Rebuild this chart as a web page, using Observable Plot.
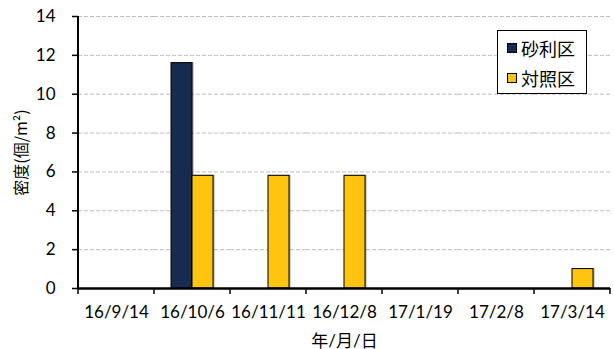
<!DOCTYPE html>
<html>
<head>
<meta charset="utf-8">
<script src="https://cdn.jsdelivr.net/npm/d3@7"></script>
<script src="https://cdn.jsdelivr.net/npm/@observablehq/plot@0.6"></script>
<style>
  body { margin: 0; background: #fff; }
  #chart { position: relative; width: 614px; height: 349px; }
  .legend {
    position: absolute; left: 497px; top: 30px; width: 88px; height: 62px;
    border: 1px solid #000; background: #fff;
    font-family: "Noto Sans CJK JP", sans-serif; font-size: 18px; color: #000;
  }
  .legend .item { position: absolute; left: 9px; display: flex; align-items: center; line-height: 1; }
  .legend .swatch { width: 8px; height: 8px; border: 1px solid #000; margin-right: 4px; }
  .bars rect { filter: drop-shadow(1.5px 0.5px 0.6px rgba(0, 0, 0, 0.35)); }
</style>
</head>
<body>
<div id="chart"></div>
<script>
// Survey dates (年/月/日) and the density per plot type (個/m²)
const dates = ["16/9/14", "16/10/6", "16/11/11", "16/12/8", "17/1/19", "17/2/8", "17/3/14"];
const series = ["砂利区", "対照区"];
const gravel = [0, 11.6, 0, 0, 0, 0, 0];
const control = [0, 5.8, 5.8, 5.8, 0, 0, 1.0];
const colors = ["#172A4F", "#FFC410"];
const yTicks = [0, 2, 4, 6, 8, 10, 12, 14];
const yLabel = "密度(個/m²)";
const xLabel = "年/月/日";

// every date keeps its rows so that each facet is drawn, even with no bars
const rows = dates.flatMap((d, i) => [
  {date: d, series: series[0], value: gravel[i]},
  {date: d, series: series[1], value: control[i]}
]);

const font = "Lato, 'Noto Sans CJK JP', sans-serif";

const plot = Plot.plot({
  width: 614,
  height: 349,
  marginLeft: 77,
  marginRight: 3,
  marginTop: 16,
  marginBottom: 61,
  style: {fontFamily: font, fontSize: "17px", color: "#000", background: "#fff"},
  fx: {domain: dates, padding: 0},
  x: {domain: series, paddingInner: 0, paddingOuter: 0.734, axis: null},
  y: {domain: [0, 14], label: null},
  color: {domain: series, range: colors},
  marks: [
    Plot.gridY(yTicks.filter(v => v > 0), {stroke: "#bdbdbd", strokeOpacity: 1, strokeDasharray: "4,2"}),
    Plot.axisY(yTicks, {tickSize: 6, tickPadding: 17, stroke: "#000", strokeWidth: 1.5, fill: "#000", fontSize: 17, label: null}),
    Plot.axisFx({anchor: "bottom", tickSize: 0, tickPadding: 17, fill: "#000", fontSize: 17, label: xLabel, labelAnchor: "center", labelOffset: 58, labelArrow: "none"}),
    Plot.barY(rows.filter(r => r.value > 0), {fx: "date", x: "series", y: "value", fill: "series", stroke: "#000", strokeWidth: 1, className: "bars"}),
    Plot.ruleY(rows, {fx: "date", y: 0, stroke: "#000", strokeWidth: 2}),
    Plot.text([{fx: dates[0], t: yLabel}], {fx: "fx", text: "t", frameAnchor: "left", textAnchor: "middle", dx: -57, rotate: -90, fontSize: 16, fill: "#000", fontFamily: "'Noto Sans CJK JP', sans-serif"})
  ]
});

// Left axis line and category boundary ticks, placed with the plot's scales
const svg = d3.select(plot);
const fx = plot.scale("fx");
const y = plot.scale("y");
const y0 = y.apply(0);
const bounds = fx.domain.map(d => fx.apply(d)).concat([fx.apply(fx.domain[fx.domain.length - 1]) + fx.bandwidth]);
const g = svg.append("g").attr("stroke", "#000");
g.selectAll("line.b").data(bounds).join("line")
  .attr("x1", d => d).attr("x2", d => d)
  .attr("y1", y0).attr("y2", y0 + 6).attr("stroke-width", 1.5);
g.append("line")
  .attr("x1", bounds[0]).attr("x2", bounds[0])
  .attr("y1", y.apply(14)).attr("y2", y0 + 1).attr("stroke-width", 2);

const chart = document.getElementById("chart");
chart.appendChild(plot);

// Legend box in the upper right of the plot area
const legend = document.createElement("div");
legend.className = "legend";
series.forEach((s, i) => {
  const item = document.createElement("div");
  item.className = "item";
  item.style.top = (i === 0 ? 8 : 38) + "px";
  const sw = document.createElement("span");
  sw.className = "swatch";
  sw.style.background = colors[i];
  const tx = document.createElement("span");
  tx.textContent = s;
  item.append(sw, tx);
  legend.appendChild(item);
});
chart.appendChild(legend);
</script>
</body>
</html>
